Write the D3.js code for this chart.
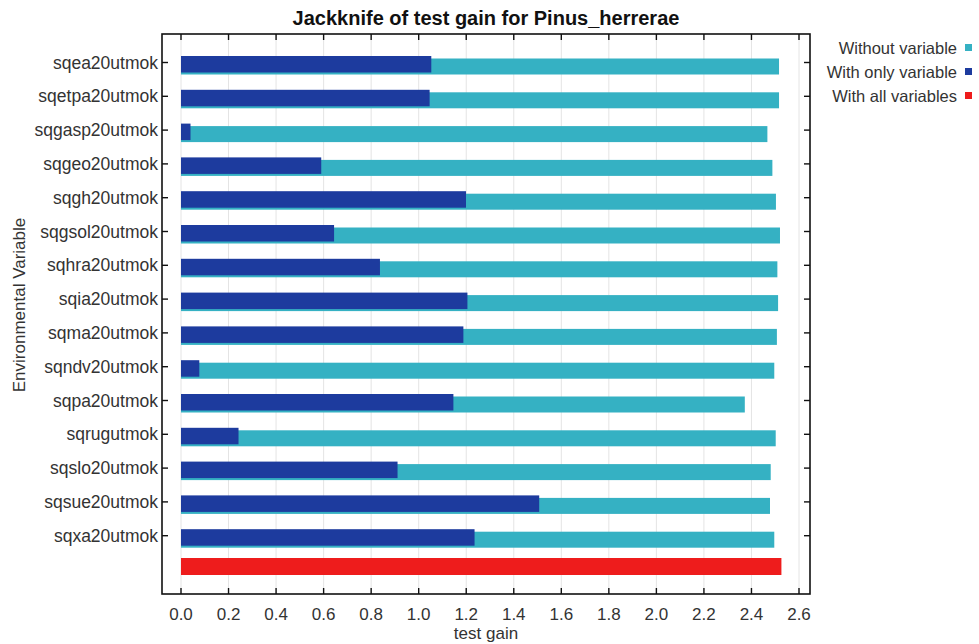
<!DOCTYPE html>
<html>
<head>
<meta charset="utf-8">
<script src="https://cdn.jsdelivr.net/npm/d3@7"></script>
<style>
  html, body { margin: 0; padding: 0; background: #fff; }
  svg { display: block; font-family: "Liberation Sans", Arial, sans-serif; }
</style>
</head>
<body>
<svg id="chart" width="979" height="644"></svg>
<script>
// ---- data ----
const categories = ["sqea20utmok","sqetpa20utmok","sqgasp20utmok","sqgeo20utmok","sqgh20utmok","sqgsol20utmok","sqhra20utmok","sqia20utmok","sqma20utmok","sqndv20utmok","sqpa20utmok","sqrugutmok","sqslo20utmok","sqsue20utmok","sqxa20utmok"];
const withoutVariable = [2.516,2.516,2.467,2.488,2.503,2.520,2.509,2.512,2.507,2.496,2.372,2.502,2.481,2.478,2.496];
const withOnlyVariable = [1.053,1.046,0.040,0.590,1.199,0.644,0.837,1.205,1.188,0.077,1.146,0.242,0.911,1.507,1.235];
const withAllVariables = 2.526;
const xTicks = [0.0,0.2,0.4,0.6,0.8,1.0,1.2,1.4,1.6,1.8,2.0,2.2,2.4,2.6];
const legendLabels = ["Without variable","With only variable","With all variables"];
const titleText = "Jackknife of test gain for Pinus_herrerae";
const xTitle = "test gain";
const yTitle = "Environmental Variable";

// ---- style / layout ----
const colors = { without: "#35b1c3", only: "#1d3b9e", all: "#ee1c1c" };
const frame = { left: 162, right: 810, top: 34, bottom: 594 };

const svg = d3.select("#chart");

const x = d3.scaleLinear().domain([0, 2.6]).range([181, 799]);
const rows = categories.concat(["__all__"]);
const y = d3.scalePoint().domain(rows).range([62.5, 569.5]);

// grid lines
svg.append("g").selectAll("line").data(xTicks).join("line")
  .attr("x1", d => x(d)).attr("x2", d => x(d))
  .attr("y1", frame.top).attr("y2", frame.bottom)
  .attr("stroke", "#e4e4e4").attr("stroke-width", 1);

// cyan bars (without variable)
svg.append("g").selectAll("rect").data(categories).join("rect")
  .attr("x", x(0))
  .attr("y", d => y(d) - 4)
  .attr("width", (d, i) => x(withoutVariable[i]) - x(0))
  .attr("height", 16)
  .attr("fill", colors.without);

// blue bars (with only variable)
svg.append("g").selectAll("rect").data(categories).join("rect")
  .attr("x", x(0))
  .attr("y", d => y(d) - 6.5)
  .attr("width", (d, i) => x(withOnlyVariable[i]) - x(0))
  .attr("height", 16.5)
  .attr("fill", colors.only);

// red bar (with all variables)
svg.append("rect")
  .attr("x", x(0))
  .attr("y", y("__all__") - 11.5)
  .attr("width", x(withAllVariables) - x(0))
  .attr("height", 17)
  .attr("fill", colors.all);

// frame
svg.append("rect")
  .attr("x", frame.left).attr("y", frame.top)
  .attr("width", frame.right - frame.left).attr("height", frame.bottom - frame.top)
  .attr("fill", "none").attr("stroke", "#111").attr("stroke-width", 1.6);

// inward ticks
const tk = 6;
const tg = svg.append("g").attr("stroke", "#111").attr("stroke-width", 1.4);
xTicks.forEach(t => {
  tg.append("line").attr("x1", x(t)).attr("x2", x(t)).attr("y1", frame.bottom).attr("y2", frame.bottom - tk);
  tg.append("line").attr("x1", x(t)).attr("x2", x(t)).attr("y1", frame.top).attr("y2", frame.top + tk);
});
categories.forEach(c => {
  tg.append("line").attr("x1", frame.left).attr("x2", frame.left + tk).attr("y1", y(c)).attr("y2", y(c));
  tg.append("line").attr("x1", frame.right).attr("x2", frame.right - tk).attr("y1", y(c)).attr("y2", y(c));
});

// x tick labels
svg.append("g").selectAll("text").data(xTicks).join("text")
  .attr("x", d => x(d)).attr("y", 620)
  .attr("text-anchor", "middle")
  .attr("font-size", 17).attr("fill", "#333")
  .text(d => d3.format(".1f")(d));

// y tick labels
svg.append("g").selectAll("text").data(categories).join("text")
  .attr("x", 158).attr("y", d => y(d) + 6)
  .attr("text-anchor", "end")
  .attr("font-size", 17.5).attr("fill", "#333")
  .text(d => d);

// title
svg.append("text")
  .attr("x", (frame.left + frame.right) / 2).attr("y", 25)
  .attr("text-anchor", "middle")
  .attr("font-size", 20).attr("font-weight", "bold").attr("fill", "#111")
  .text(titleText);

// axis titles
svg.append("text")
  .attr("x", (frame.left + frame.right) / 2).attr("y", 639)
  .attr("text-anchor", "middle")
  .attr("font-size", 17).attr("fill", "#333")
  .text(xTitle);

svg.append("text")
  .attr("transform", "translate(25,305) rotate(-90)")
  .attr("text-anchor", "middle")
  .attr("font-size", 17).attr("fill", "#333")
  .text(yTitle);

// legend
const legendColors = [colors.without, colors.only, colors.all];
const lg = svg.append("g");
legendLabels.forEach((l, i) => {
  lg.append("text")
    .attr("x", 957).attr("y", 54 + i * 24)
    .attr("text-anchor", "end")
    .attr("font-size", 16.5).attr("fill", "#333")
    .text(l);
  lg.append("rect")
    .attr("x", 965).attr("y", 44 + i * 24)
    .attr("width", 7).attr("height", 7)
    .attr("fill", legendColors[i]);
});
</script>
</body>
</html>
